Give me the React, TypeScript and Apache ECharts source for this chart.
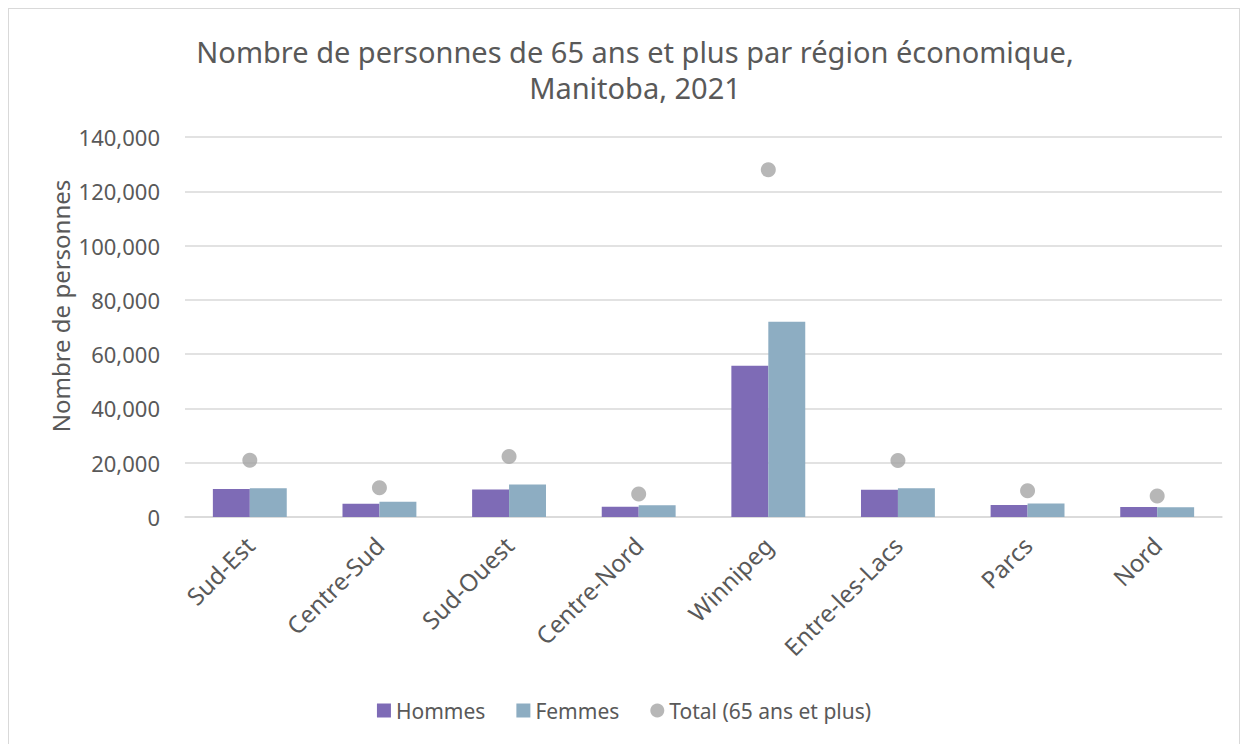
import React, { useEffect, useRef } from "react";
import * as echarts from "echarts";

const categories = ["Sud-Est", "Centre-Sud", "Sud-Ouest", "Centre-Nord", "Winnipeg", "Entre-les-Lacs", "Parcs", "Nord"];
const hommes = [10300, 4900, 10100, 3800, 55700, 10000, 4400, 3700];
const femmes = [10600, 5600, 12000, 4300, 71900, 10600, 5000, 3600];
const total = [20900, 10800, 22300, 8500, 127900, 20800, 9700, 7700];
const yTicks = { min: 0, max: 140000, interval: 20000 };

const FONT = "'Noto Sans', Roboto, sans-serif";
const TXT = "#595959";

export default function App() {
  const ref = useRef<HTMLDivElement>(null);
  useEffect(() => {
    if (!ref.current) return;
    const chart = echarts.init(ref.current, undefined, { renderer: "svg" });
    chart.setOption({
      animation: false,
      textStyle: { fontFamily: FONT, color: TXT },
      title: {
        text: "Nombre de personnes de 65 ans et plus par région économique,\nManitoba, 2021",
        left: 621,
        top: 19,
        textAlign: "center",
        textStyle: { fontFamily: FONT, fontSize: 29, fontWeight: "normal", color: TXT, lineHeight: 36 },
      },
      legend: {
        bottom: 21,
        left: "center",
        itemGap: 31,
        itemWidth: 14,
        itemHeight: 14,
        textStyle: { fontFamily: FONT, fontSize: 21, color: TXT },
        data: [
          { name: "Hommes", icon: "rect" },
          { name: "Femmes", icon: "rect" },
          { name: "Total (65 ans et plus)", icon: "circle" },
        ],
      },
      grid: { left: 176, right: 17, top: 128, bottom: 230, containLabel: false },
      xAxis: {
        type: "category",
        data: categories,
        axisLine: { show: true, lineStyle: { color: "#D9D9D9", width: 1.5 } },
        axisTick: { show: false },
        axisLabel: { rotate: 45, fontSize: 24, color: TXT, fontFamily: FONT, margin: 24, interval: 0 },
      },
      yAxis: {
        type: "value",
        min: yTicks.min,
        max: yTicks.max,
        interval: yTicks.interval,
        axisLine: { show: false },
        axisTick: { show: false },
        axisLabel: {
          fontSize: 22,
          color: TXT,
          fontFamily: FONT,
          margin: 25,
          formatter: (v: number) => v.toLocaleString("en-US"),
        },
        splitLine: { lineStyle: { color: "#D9D9D9", width: 1.5 } },
      },
      graphic: [
        {
          type: "text",
          x: 51,
          y: 297,
          rotation: Math.PI / 2,
          style: {
            text: "Nombre de personnes",
            fontFamily: FONT,
            fontSize: 24,
            fill: TXT,
            textAlign: "center",
            textVerticalAlign: "middle",
          },
        },
      ],
      series: [
        {
          name: "Hommes",
          type: "bar",
          data: hommes,
          barGap: "0%",
          barCategoryGap: "43%",
          itemStyle: { color: "#7E6BB6" },
        },
        {
          name: "Femmes",
          type: "bar",
          data: femmes,
          itemStyle: { color: "#8DADC2" },
        },
        {
          name: "Total (65 ans et plus)",
          type: "scatter",
          data: total,
          symbol: "circle",
          symbolSize: 15,
          itemStyle: { color: "#A5A5A5" },
        },
      ],
    });
    return () => chart.dispose();
  }, []);
  return (
    <div
      style={{
        width: 1232,
        height: 740,
        boxSizing: "border-box",
        border: "1px solid #D9D9D9",
        background: "#fff",
      }}
    >
      <div ref={ref} style={{ width: 1230, height: 738 }} />
    </div>
  );
}
